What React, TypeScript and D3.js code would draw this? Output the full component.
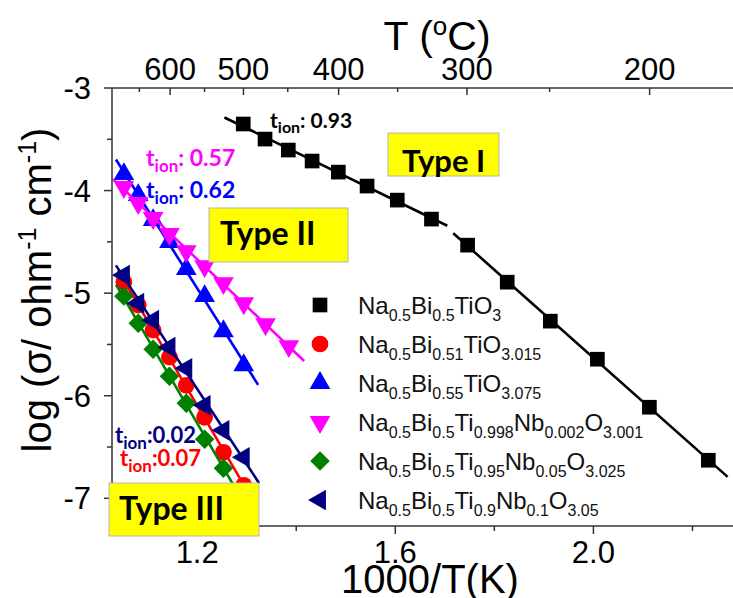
import React from 'react';
import * as d3 from 'd3';

const W = 733, H = 598;

// axes
const xTicksMajor = [1.2, 1.6, 2.0];
const xTicksMinor = [1.4, 1.8, 2.2];
const yTicksMajor = [-3, -4, -5, -6, -7];
const yTicksMinor = [-3.5, -4.5, -5.5, -6.5];
const tempTicksMajor = [600, 500, 400, 300, 200];
const tempTicksMinor = [650, 550, 450, 350, 250];

// data (1000/T in K^-1, log sigma)
const xBlack = [1.293, 1.337, 1.384, 1.432, 1.485, 1.543, 1.604, 1.673, 1.746, 1.826, 1.913, 2.008, 2.113, 2.232];
const yBlack = [-3.351, -3.498, -3.605, -3.712, -3.82, -3.956, -4.093, -4.278, -4.532, -4.893, -5.273, -5.644, -6.112, -6.629];
const xHigh = [1.052, 1.081, 1.111, 1.144, 1.178, 1.215, 1.253, 1.294];
const xMagenta = [1.052, 1.081, 1.111, 1.144, 1.178, 1.215, 1.253, 1.294, 1.338, 1.385];
const yRed = [-4.893, -5.117, -5.361, -5.624, -5.898, -6.21, -6.551, -6.873];
const yBlue = [-3.839, -4.044, -4.288, -4.502, -4.766, -5.029, -5.371, -5.702];
const yMagenta = [-3.966, -4.122, -4.268, -4.424, -4.59, -4.737, -4.902, -5.098, -5.302, -5.517];
const yGreen = [-5.029, -5.293, -5.546, -5.81, -6.073, -6.424, -6.707, -7.02];
const yNavy = [-4.824, -5.098, -5.263, -5.527, -5.732, -6.093, -6.337, -6.6];

const seriesNames = [
  'Na_{0.5}Bi_{0.5}TiO_{3}',
  'Na_{0.5}Bi_{0.51}TiO_{3.015}',
  'Na_{0.5}Bi_{0.55}TiO_{3.075}',
  'Na_{0.5}Bi_{0.5}Ti_{0.998}Nb_{0.002}O_{3.001}',
  'Na_{0.5}Bi_{0.5}Ti_{0.95}Nb_{0.05}O_{3.025}',
  'Na_{0.5}Bi_{0.5}Ti_{0.9}Nb_{0.1}O_{3.05}',
];
const seriesX = [xBlack, xHigh, xHigh, xMagenta, xHigh, xHigh];
const seriesY = [yBlack, yRed, yBlue, yMagenta, yGreen, yNavy];
const seriesColors = ['#000000', '#ff0000', '#0000ff', '#ff00ff', '#008000', '#000080'];
const seriesSymbols = ['square', 'circle', 'up', 'down', 'diamond', 'left'];

// linear fits: series, first point, last point, x range drawn
const fitSeries = [0, 0, 1, 2, 3, 4, 5];
const fitFirst = [0, 8, 0, 0, 0, 0, 0];
const fitLast = [7, 13, 7, 7, 9, 7, 7];
const fitFrom = [1.255, 1.717, 1.04, 1.036, 1.03, 1.036, 1.036];
const fitTo = [1.705, 2.271, 1.318, 1.323, 1.416, 1.31, 1.325];

const tionValues = ['0.93', '0.57', '0.62', '0.02', '0.07'];
const typeLabels = ['Type I', 'Type II', 'Type III'];

const AX = 'Liberation Sans, Arial, sans-serif';
const BOLD = 'Lato, Open Sans, sans-serif';

function parse(s: string) {
  const out: { t: string; k: string }[] = [];
  const re = /_\{([^}]*)\}|\^\{([^}]*)\}|([^_^]+)/g;
  let m;
  while ((m = re.exec(s))) {
    if (m[1] !== undefined) out.push({ t: m[1], k: 'sub' });
    else if (m[2] !== undefined) out.push({ t: m[2], k: 'sup' });
    else out.push({ t: m[3], k: 'n' });
  }
  return out;
}

function Rich({ s, size, small, down, up }: { s: string; size: number; small: number; down: number; up: number }) {
  const parts = parse(s);
  let cur = 0;
  return (
    <>
      {parts.map((p, i) => {
        const target = p.k === 'sub' ? down : p.k === 'sup' ? -up : 0;
        const dy = target - cur;
        cur = target;
        return (
          <tspan key={i} dy={dy} fontSize={p.k === 'n' ? size : small}>
            {p.t}
          </tspan>
        );
      })}
    </>
  );
}

function symbolPath(kind: string) {
  if (kind === 'square') return d3.symbol().type(d3.symbolSquare).size(215)()!;
  if (kind === 'circle') return d3.symbol().type(d3.symbolCircle).size(220)()!;
  if (kind === 'diamond') return d3.symbol().type(d3.symbolSquare).size(190)()!;
  return d3.symbol().type(d3.symbolTriangle).size(185)()!;
}
function symbolRot(kind: string) {
  if (kind === 'down') return 180;
  if (kind === 'left') return -90;
  if (kind === 'diamond') return 45;
  return 0;
}

function fit(xs: number[], ys: number[]) {
  const mx = d3.mean(xs)!, my = d3.mean(ys)!;
  let sxy = 0, sxx = 0;
  xs.forEach((x, i) => { sxy += (x - mx) * (ys[i] - my); sxx += (x - mx) * (x - mx); });
  const b = sxy / sxx;
  return (x: number) => my + b * (x - mx);
}

export default function App() {
  const x = d3.scaleLinear().domain([1.028, 2.3]).range([112, 742]);
  const y = d3.scaleLinear().domain([-7.27, -3]).range([526, 88]);
  const xT = (c: number) => x(1000 / (c + 273.15));
  const line = d3.line<[number, number]>().x(d => x(d[0])).y(d => y(d[1]));

  return (
    <svg width={W} height={H} style={{ display: 'block', position: 'absolute', left: 0, top: 0, background: '#fff' }}>
      <defs>
        <clipPath id="plot"><rect x={112} y={88} width={640} height={438} /></clipPath>
      </defs>
      <rect x={0} y={0} width={W} height={H} fill="#fff" />

      {/* data */}
      <g clipPath="url(#plot)">
        {seriesNames.map((_, si) => (
          <g key={si}>
            {fitSeries.map((fs, fi) => {
              if (fs !== si) return null;
              const xs = seriesX[si].slice(fitFirst[fi], fitLast[fi] + 1);
              const ys = seriesY[si].slice(fitFirst[fi], fitLast[fi] + 1);
              const f = fit(xs, ys);
              return (
                <path key={fi} d={line([[fitFrom[fi], f(fitFrom[fi])], [fitTo[fi], f(fitTo[fi])]])!}
                  stroke={seriesColors[si]} strokeWidth={2.6} fill="none" />
              );
            })}
            {seriesX[si].map((xv, i) => (
              <path key={i} d={symbolPath(seriesSymbols[si])}
                transform={`translate(${x(xv)},${y(seriesY[si][i])}) rotate(${symbolRot(seriesSymbols[si])})`}
                fill={seriesColors[si]} />
            ))}
          </g>
        ))}
      </g>

      {/* axes */}
      <g stroke="#333" strokeWidth={1.5} fill="none">
        <line x1={112} x2={742} y1={88} y2={88} />
        <line x1={112} x2={742} y1={526} y2={526} />
        <line x1={112} x2={112} y1={88} y2={526} />
        {yTicksMajor.map(t => <line key={t} x1={104} x2={112} y1={y(t)} y2={y(t)} />)}
        {yTicksMinor.map(t => <line key={t} x1={107} x2={112} y1={y(t)} y2={y(t)} />)}
        {xTicksMajor.map(t => <line key={t} x1={x(t)} x2={x(t)} y1={526} y2={534} />)}
        {xTicksMinor.map(t => <line key={t} x1={x(t)} x2={x(t)} y1={526} y2={531} />)}
        {tempTicksMajor.map(t => <line key={t} x1={xT(t)} x2={xT(t)} y1={88} y2={95} />)}
        {tempTicksMinor.map(t => <line key={t} x1={xT(t)} x2={xT(t)} y1={88} y2={92} />)}
      </g>
      <g fontFamily={AX} fill="#000">
        {yTicksMajor.map(t => (
          <text key={t} x={91} y={y(t) + 11} fontSize={31} textAnchor="end">{String(t)}</text>
        ))}
        {xTicksMajor.map(t => (
          <text key={t} x={x(t)} y={563} fontSize={31} textAnchor="middle">{t.toFixed(1)}</text>
        ))}
        {tempTicksMajor.map(t => (
          <text key={t} x={xT(t)} y={80} fontSize={31} textAnchor="middle">{t}</text>
        ))}
        <text x={430} y={593} fontSize={40} textAnchor="middle">1000/T(K)</text>
        <text x={437} y={50} fontSize={41} textAnchor="middle">
          <Rich s={'T (^{o}C)'} size={41} small={26} down={0} up={15} />
        </text>
        <text transform="translate(51,290) rotate(-90)" fontSize={40} textAnchor="middle">
          <Rich s={'log (σ/ ohm^{-1} cm^{-1})'} size={40} small={25} down={0} up={15} />
        </text>
      </g>

      {/* legend */}
      <g fontFamily={AX}>
        {seriesNames.map((n, i) => (
          <g key={i}>
            <path d={symbolPath(seriesSymbols[i])} fill={seriesColors[i]}
              transform={`translate(320,${305 + i * 39}) rotate(${symbolRot(seriesSymbols[i])})`} />
            <text x={358} y={305 + i * 39 + 8.5} fill="#111">
              <Rich s={n} size={24} small={16} down={7} up={0} />
            </text>
          </g>
        ))}
      </g>

      {/* t_ion labels */}
      <g fontFamily={BOLD} fontWeight={700}>
        <text x={270} y={128} fill="#000"><Rich s={'t_{ion}: ' + tionValues[0]} size={21} small={16} down={5} up={0} /></text>
        <text x={146} y={166} fill="#ff00ff"><Rich s={'t_{ion}: ' + tionValues[1]} size={23} small={17} down={6} up={0} /></text>
        <text x={146} y={198} fill="#0000ff"><Rich s={'t_{ion}: ' + tionValues[2]} size={23} small={17} down={6} up={0} /></text>
        <text x={115} y={443} fill="#000080"><Rich s={'t_{ion}:' + tionValues[3]} size={22} small={17} down={6} up={0} /></text>
        <text x={120} y={466} fill="#ff0000"><Rich s={'t_{ion}:' + tionValues[4]} size={22} small={17} down={6} up={0} /></text>
      </g>

      {/* type boxes */}
      <g fontFamily={BOLD} fontWeight={700}>
        <rect x={388} y={133} width={111} height={43} fill="#ffff00" stroke="#b5b5b5" strokeWidth={1} />
        <text x={402} y={172} fontSize={31} fill="#000">{typeLabels[0]}</text>
        <rect x={209} y={208} width={139} height={54} fill="#ffff00" stroke="#b5b5b5" strokeWidth={1} />
        <text x={220} y={245} fontSize={32} fill="#000">{typeLabels[1]}</text>
        <rect x={109} y={483} width={150} height={53} fill="#ffff00" stroke="#b5b5b5" strokeWidth={1} />
        <text x={119} y={520} fontSize={32} fill="#000">{typeLabels[2]}</text>
      </g>
    </svg>
  );
}
